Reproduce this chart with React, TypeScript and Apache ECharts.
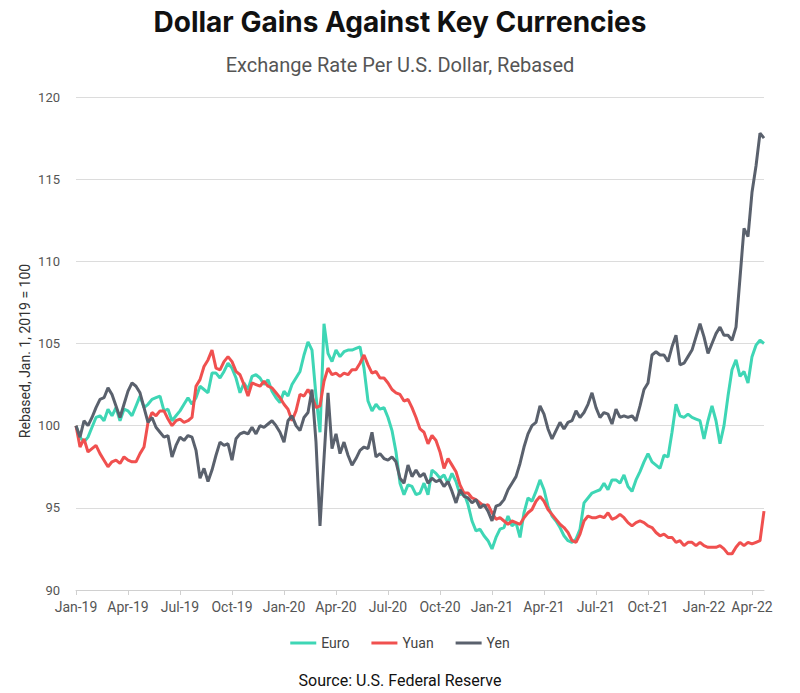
import React, { useEffect, useRef } from "react";
import * as echarts from "echarts";

// Weekly readings, rebased so that Jan. 1, 2019 = 100 (first week starts 2019-01-01)
const euro: number[] = [
  100.0, 99.3, 99.0, 99.3, 99.9, 100.5, 100.6, 100.3, 101.0, 100.6,
  101.1, 100.3, 101.0, 100.9, 100.6, 101.2, 101.8, 101.1, 101.3, 101.6,
  101.7, 101.8, 100.9, 101.0, 100.3, 100.6, 100.9, 101.3, 101.7, 101.3,
  101.7, 102.4, 102.2, 102.0, 103.2, 103.2, 102.9, 103.3, 103.8, 103.5,
  102.9, 102.0, 102.6, 102.2, 103.0, 103.1, 102.9, 102.5, 102.8, 102.1,
  101.7, 101.4, 102.1, 101.8, 102.5, 102.9, 103.3, 104.3, 105.1, 104.6,
  101.8, 99.6, 106.2, 104.4, 103.9, 104.6, 104.2, 104.5, 104.6, 104.6,
  104.7, 104.8, 103.5, 101.5, 100.9, 101.3, 101.0, 101.1, 100.5, 99.7,
  98.4, 96.5, 95.8, 96.4, 96.3, 95.8, 95.9, 96.5, 95.8, 97.3,
  97.1, 96.8, 97.0, 96.5, 97.1, 96.6, 95.8, 95.9, 95.2, 94.2,
  93.6, 93.7, 93.3, 93.0, 92.5, 93.2, 93.7, 93.8, 94.5, 93.9,
  94.1, 93.2, 94.7, 95.6, 95.4, 96.0, 96.7, 96.1, 95.1, 94.5,
  94.2, 93.8, 93.3, 93.0, 92.9, 93.1, 93.7, 95.3, 95.6, 95.9,
  96.0, 96.1, 96.5, 96.1, 96.7, 96.7, 96.5, 97.0, 96.3, 96.0,
  96.7, 97.2, 97.8, 98.3, 97.8, 97.6, 97.4, 98.2, 98.1, 99.6,
  101.3, 100.6, 100.5, 100.7, 100.5, 100.4, 100.3, 99.2, 100.3, 101.2,
  100.3, 98.9, 100.0, 101.8, 103.4, 104.0, 103.0, 103.3, 102.6, 104.2,
  104.9, 105.2, 105.0,
];

const yuan: number[] = [
  100.0, 98.7, 99.2, 98.4, 98.6, 98.8, 98.3, 97.9, 97.5, 97.8,
  97.9, 97.7, 98.1, 97.9, 97.8, 97.8, 98.3, 98.7, 100.2, 100.8,
  100.6, 100.9, 100.9, 100.4, 100.0, 100.3, 100.4, 100.2, 100.3, 100.5,
  102.4, 102.8, 103.6, 104.0, 104.6, 103.5, 103.4, 103.9, 104.2, 103.9,
  103.3, 103.1, 102.5, 101.8, 102.6, 102.5, 102.4, 102.7, 102.4, 102.3,
  102.0, 101.7, 101.3, 101.0, 100.3, 100.9, 101.9, 101.8, 102.2, 101.8,
  101.1, 101.2, 102.7, 103.5, 103.1, 103.2, 103.0, 103.2, 103.1, 103.4,
  103.4, 103.8, 104.3, 103.7, 103.2, 103.3, 102.9, 102.9, 102.6, 102.2,
  102.0, 101.9, 101.5, 101.6, 101.1, 100.5, 99.8, 99.6, 98.9, 99.4,
  99.1, 98.4, 97.4, 98.0, 97.6, 97.2, 96.4, 95.9, 95.9, 95.6,
  95.5, 95.3, 95.1, 95.2, 94.7, 94.3, 94.4, 94.2, 94.0, 94.2,
  94.1, 94.0, 94.4, 94.7, 94.9, 95.4, 95.7, 95.4, 94.9, 94.6,
  94.3, 94.0, 93.8, 93.5, 93.0, 92.9, 93.4, 94.2, 94.5, 94.4,
  94.4, 94.5, 94.4, 94.7, 94.3, 94.4, 94.6, 94.4, 94.1, 93.9,
  94.1, 94.2, 94.1, 93.9, 93.8, 93.5, 93.3, 93.4, 93.2, 93.2,
  92.9, 93.0, 92.7, 92.9, 92.9, 92.7, 92.9, 92.7, 92.6, 92.6,
  92.6, 92.7, 92.5, 92.2, 92.2, 92.6, 92.9, 92.7, 92.9, 92.8,
  92.9, 93.0, 94.8,
];

const yen: number[] = [
  100.0, 99.3, 100.3, 100.0, 100.5, 101.1, 101.6, 101.7, 102.3, 101.9,
  101.2, 100.5, 101.3, 102.1, 102.6, 102.4, 102.0, 101.1, 100.2, 100.5,
  99.9, 99.6, 99.3, 99.4, 98.1, 98.8, 99.3, 99.1, 99.4, 99.3,
  98.5, 96.8, 97.4, 96.6, 97.3, 98.2, 99.0, 98.8, 98.9, 97.9,
  99.2, 99.5, 99.6, 99.5, 99.9, 99.5, 100.0, 99.9, 100.1, 100.3,
  100.0, 99.6, 99.0, 100.3, 100.6, 100.0, 99.7, 100.5, 100.8, 102.2,
  99.0, 93.9, 98.0, 102.0, 98.6, 99.5, 98.3, 99.0, 98.2, 97.6,
  98.0, 98.5, 98.7, 98.6, 99.6, 98.1, 98.3, 98.0, 97.9, 98.1,
  97.8, 96.8, 96.5, 97.6, 96.9, 97.3, 96.9, 97.1, 96.5, 96.8,
  96.6, 96.7, 96.3, 96.6, 96.0, 95.3, 96.1, 95.7, 95.6, 95.3,
  95.5, 95.0, 95.2, 94.8, 94.2, 95.1, 95.2, 95.5, 96.1, 96.5,
  96.9, 97.7, 98.7, 99.5, 100.0, 100.2, 101.2, 100.7, 99.8, 99.2,
  99.7, 100.2, 99.8, 100.2, 100.3, 100.9, 100.5, 100.8, 101.3, 102.0,
  101.1, 100.5, 100.8, 100.7, 100.1, 101.0, 100.5, 100.6, 100.5, 100.6,
  100.3, 101.2, 102.2, 102.6, 104.3, 104.5, 104.3, 104.3, 103.9, 104.8,
  105.5, 103.7, 103.8, 104.2, 104.6, 105.4, 106.2, 105.4, 104.4, 105.0,
  105.6, 106.0, 105.5, 105.5, 105.2, 106.0, 109.0, 112.0, 111.5, 114.2,
  115.8, 117.8, 117.5,
];

// Quarter tick labels on the date axis
const quarterLabels: string[] = [
  "Jan-19", "Apr-19", "Jul-19", "Oct-19", "Jan-20", "Apr-20", "Jul-20",
  "Oct-20", "Jan-21", "Apr-21", "Jul-21", "Oct-21", "Jan-22", "Apr-22",
];
const quarterStarts: string[] = [
  "2019-01-01", "2019-04-01", "2019-07-01", "2019-10-01", "2020-01-01",
  "2020-04-01", "2020-07-01", "2020-10-01", "2021-01-01", "2021-04-01",
  "2021-07-01", "2021-10-01", "2022-01-01", "2022-04-01",
];

const seriesNames = ["Euro", "Yuan", "Yen"];
const seriesColors = ["#3ed6b5", "#f0504f", "#5a616d"];

const DAY = 86400000;
const START = Date.UTC(2019, 0, 1);

const weekDates: string[] = euro.map((_, i) =>
  new Date(START + i * 7 * DAY).toISOString().slice(0, 10)
);

// Week index nearest to each quarter start -> label
const tickAt: Record<number, string> = {};
quarterStarts.forEach((d, i) => {
  const idx = Math.round((Date.parse(d + "T00:00:00Z") - START) / DAY / 7);
  tickAt[idx] = quarterLabels[i];
});

const FONT = "Roboto, 'Noto Sans', sans-serif";

export default function App() {
  const ref = useRef<HTMLDivElement>(null);

  useEffect(() => {
    document.body.style.margin = "0";
    if (!ref.current) return;
    const chart = echarts.init(ref.current, undefined, { renderer: "svg" });
    const data = [euro, yuan, yen];

    chart.setOption({
      animation: false,
      backgroundColor: "#ffffff",
      textStyle: { fontFamily: FONT },
      title: [
        {
          text: "Dollar Gains Against Key Currencies",
          left: "center",
          top: 3,
          textStyle: {
            fontFamily: "Inter, Roboto, sans-serif",
            fontSize: 28,
            fontWeight: 700,
            color: "#111111",
          },
        },
        {
          text: "Exchange Rate Per U.S. Dollar, Rebased",
          left: "center",
          top: 50,
          textStyle: {
            fontFamily: FONT,
            fontSize: 20,
            fontWeight: 400,
            color: "#555555",
          },
        },
        {
          text: "Source: U.S. Federal Reserve",
          left: "center",
          top: 667,
          textStyle: {
            fontFamily: FONT,
            fontSize: 16,
            fontWeight: 400,
            color: "#111111",
          },
        },
      ],
      // Vertical y-axis caption
      graphic: [
        {
          type: "text",
          x: 25,
          y: 351,
          rotation: Math.PI / 2,
          style: {
            text: "Rebased, Jan. 1, 2019 = 100",
            fontFamily: FONT,
            fontSize: 14,
            fill: "#333333",
            align: "center",
            verticalAlign: "middle",
          },
        },
      ],
      legend: {
        data: seriesNames,
        top: 631,
        left: "center",
        icon: "rect",
        itemWidth: 26,
        itemHeight: 3,
        itemGap: 22,
        textStyle: { fontFamily: FONT, fontSize: 14, color: "#444444" },
      },
      grid: { left: 76, right: 36, top: 97, bottom: 103 },
      xAxis: {
        type: "category",
        data: weekDates,
        boundaryGap: false,
        axisLine: { lineStyle: { color: "#d0d0d0", width: 1 } },
        axisTick: {
          show: true,
          length: 5,
          interval: (idx: number) => tickAt[idx] !== undefined,
          lineStyle: { color: "#d0d0d0" },
        },
        axisLabel: {
          interval: (idx: number) => tickAt[idx] !== undefined,
          formatter: (_v: string, idx: number) => tickAt[idx] ?? "",
          color: "#555555",
          fontSize: 14,
          margin: 10,
        },
        splitLine: { show: false },
      },
      yAxis: {
        type: "value",
        min: 90,
        max: 120,
        interval: 5,
        axisLine: { show: false },
        axisTick: { show: false },
        axisLabel: { color: "#555555", fontSize: 13, margin: 16 },
        splitLine: { lineStyle: { color: "#dcdcdc", width: 1 } },
      },
      series: seriesNames.map((name, i) => ({
        name,
        type: "line",
        data: data[i],
        showSymbol: false,
        symbol: "none",
        lineStyle: { width: 3, color: seriesColors[i] },
        itemStyle: { color: seriesColors[i] },
        z: 2 + i,
      })),
    });

    return () => chart.dispose();
  }, []);

  return <div ref={ref} style={{ width: 800, height: 693 }} />;
}
